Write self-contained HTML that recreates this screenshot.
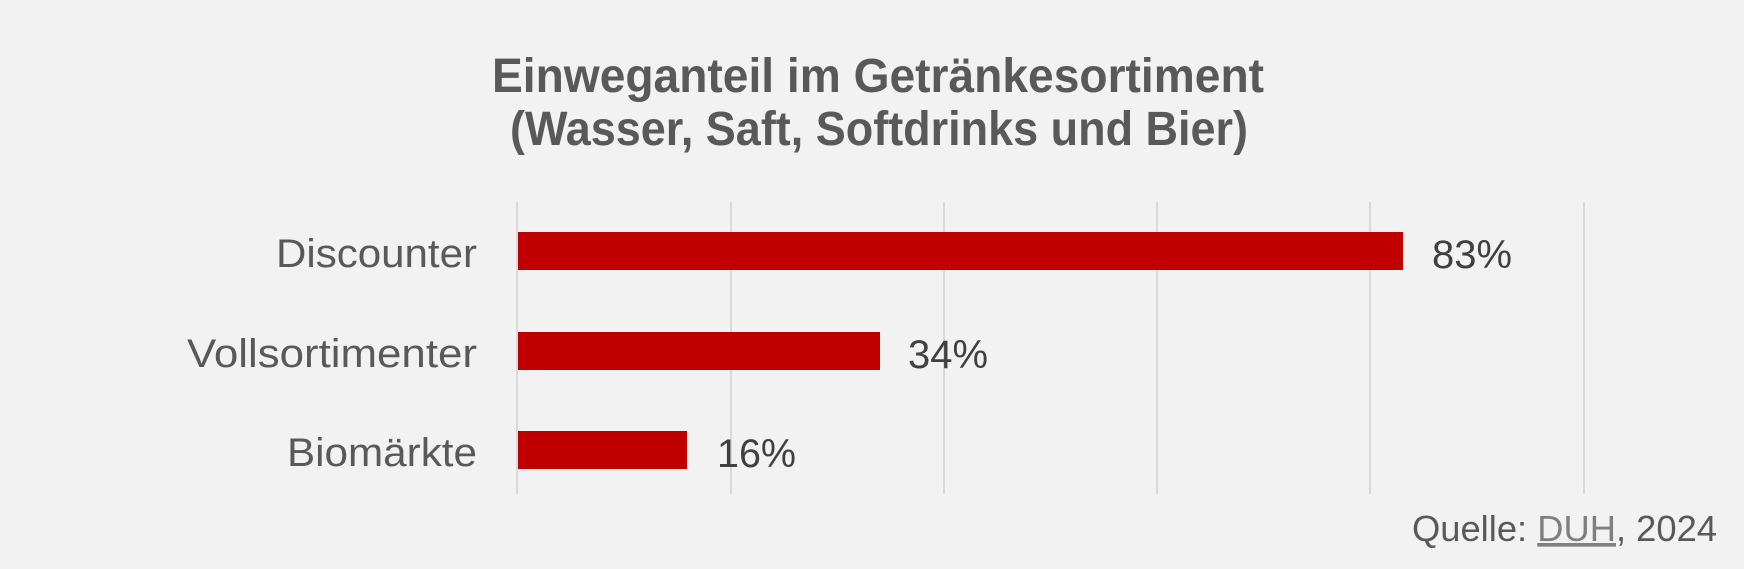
<!DOCTYPE html>
<html><head><meta charset="utf-8"><style>
html,body{margin:0;padding:0;background:#f2f2f2;}
svg{display:block;font-family:"Liberation Sans",sans-serif;}
</style></head><body>
<svg width="1744" height="569" viewBox="0 0 1744 569" xmlns="http://www.w3.org/2000/svg">
<rect width="1744" height="569" fill="#f2f2f2"/>
<g fill="#595959" font-weight="bold" font-size="48" text-anchor="middle">
<text x="878" y="92" textLength="772" lengthAdjust="spacingAndGlyphs">Einweganteil im Getränkesortiment</text>
<text x="879" y="145" textLength="738" lengthAdjust="spacingAndGlyphs">(Wasser, Saft, Softdrinks und Bier)</text>
</g>
<g stroke="#d9d9d9" stroke-width="2">
<line x1="517" y1="202" x2="517" y2="494"/>
<line x1="731" y1="202" x2="731" y2="494"/>
<line x1="944" y1="202" x2="944" y2="494"/>
<line x1="1157" y1="202" x2="1157" y2="494"/>
<line x1="1370" y1="202" x2="1370" y2="494"/>
<line x1="1584" y1="202" x2="1584" y2="494"/>
</g>
<g fill="#c00000">
<rect x="518" y="232" width="885" height="38"/>
<rect x="518" y="332" width="362" height="38"/>
<rect x="518" y="431" width="169" height="38"/>
</g>
<g fill="#595959" font-size="40" text-anchor="end">
<text x="477" y="267" textLength="201" lengthAdjust="spacingAndGlyphs">Discounter</text>
<text x="477" y="367" textLength="290" lengthAdjust="spacingAndGlyphs">Vollsortimenter</text>
<text x="477" y="466" textLength="190" lengthAdjust="spacingAndGlyphs">Biomärkte</text>
</g>
<g fill="#404040" font-size="40">
<text x="1432" y="268" textLength="80" lengthAdjust="spacingAndGlyphs">83%</text>
<text x="908" y="368" textLength="80" lengthAdjust="spacingAndGlyphs">34%</text>
<text x="717" y="467" textLength="79" lengthAdjust="spacingAndGlyphs">16%</text>
</g>
<text x="1412" y="541" font-size="36" fill="#595959" textLength="305" lengthAdjust="spacingAndGlyphs">Quelle: <tspan fill="#7f7f7f" text-decoration="underline">DUH</tspan>, 2024</text>
</svg>
</body></html>
